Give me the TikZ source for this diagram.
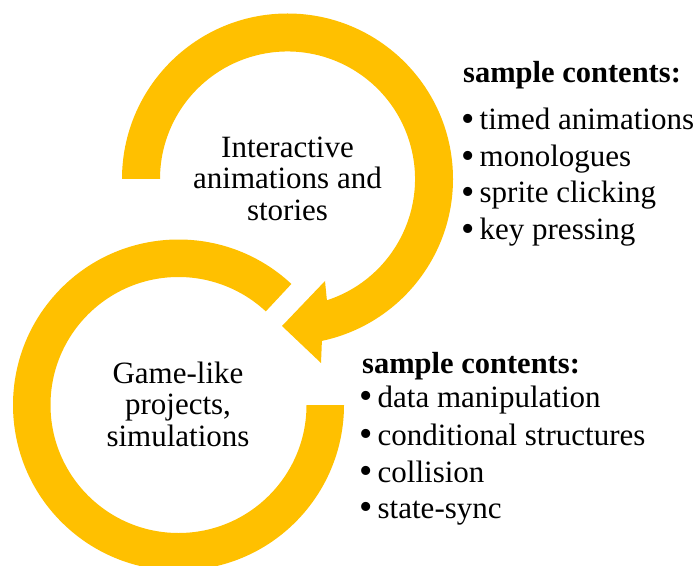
\documentclass[tikz,border=0pt]{standalone}
\usepackage{fontspec}
\setmainfont{Liberation Serif}
\usetikzlibrary{calc}
\definecolor{ringgold}{RGB}{255,192,0}
\newcommand{\bigbullet}{\smash{\raisebox{-1.5pt}{\fontsize{38}{38}\selectfont\textbullet}}\,}
\tikzstyle{ring} = [fill=ringgold, draw=none]
\tikzstyle{caption} = [align=center, font=\fontsize{31}{31.5}\selectfont]
\tikzstyle{heading} = [anchor=base west, inner sep=0pt, font=\fontsize{30.5}{34}\selectfont\bfseries]
\tikzstyle{item} = [anchor=base west, inner sep=0pt, font=\fontsize{31}{34}\selectfont]

\begin{document}
\begin{tikzpicture}[x=1pt,y=1pt]
	\useasboundingbox (0,0) rectangle (700,565);
	\coordinate (top) at (287.5,386);
	\coordinate (bottom) at (178.5,160);

	% upper ring, ends in the arrow head
	\fill[ring] ($(top)+(180:165.5)$) arc[start angle=180, end angle=-78, radius=165.5pt]
		-- (321,202) -- (282,239) -- (325,284)
		-- ($(top)+(-72:127.5)$) arc[start angle=-72, end angle=180, radius=127.5pt] -- cycle;

	% lower ring
	\fill[ring] ($(bottom)+(47:165.5)$) arc[start angle=47, end angle=360, radius=165.5pt]
		-- ($(bottom)+(0:128)$) arc[start angle=360, end angle=47, radius=128pt] -- cycle;

	\node[caption](interactive) at (287.5,386.5){Interactive\\animations and\\stories};
	\node[caption](gamelike) at (178,161){Game-like\\projects,\\simulations};

	\node[heading](headA) at (463,482){sample contents:};
	\node[item](timed) at (461,435){\bigbullet timed animations};
	\node[item](mono) at (461,398){\bigbullet monologues};
	\node[item](sprite) at (461,362){\bigbullet sprite clicking};
	\node[item](key) at (461,325){\bigbullet key pressing};

	\node[heading](headB) at (362,192){sample contents:};
	\node[item](data) at (359,158){\bigbullet data manipulation};
	\node[item](cond) at (359,120){\bigbullet conditional structures};
	\node[item](coll) at (359,83){\bigbullet collision};
	\node[item](sync) at (359,47){\bigbullet state-sync};
\end{tikzpicture}
\end{document}
